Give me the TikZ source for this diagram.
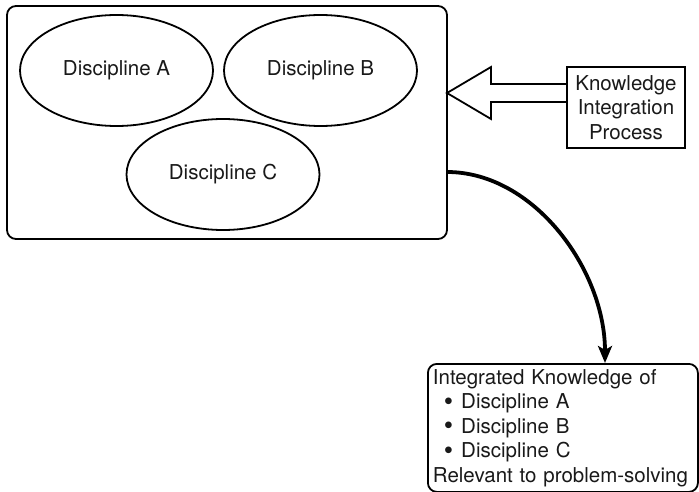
\documentclass[tikz,border=0pt]{standalone}
\usepackage{fontspec}
\setmainfont{TeX Gyre Heros}
\usetikzlibrary{arrows.meta,shapes.geometric}
\newcommand{\itembul}{\hspace*{11pt}\smash{\raisebox{-1.6pt}{\scalebox{1.3}{\textbullet}}}\hspace{8pt}}
\begin{document}
\begin{tikzpicture}[x=1pt,y=-1pt,
  every node/.style={font=\fontsize{20.5}{24.5}\selectfont, text=black!90},
  frame/.style={draw, line width=1.8pt, rounded corners=9pt},
  disc/.style={draw, ellipse, line width=1.8pt, minimum width=193pt, minimum height=111pt, inner sep=0pt},
  sqbox/.style={draw, line width=1.8pt, minimum width=118pt, minimum height=81pt, align=center, inner sep=0pt},
  resbox/.style={draw, line width=1.8pt, rounded corners=9pt, anchor=north west,
    minimum width=270pt, minimum height=128pt, text width=260pt, inner xsep=5pt, inner ysep=0pt, align=left},
  flow/.style={line width=3.8pt, -{Stealth[length=17pt,width=14pt,inset=4pt]}}
]
\useasboundingbox (0,0) rectangle (699,492);

% outer frame holding the three disciplines
\draw[frame] (7,6) rectangle (447,239);

\node[disc] (a) at (116.5,70.5) {Discipline A};
\node[disc] (b) at (320.5,70.5) {Discipline B};
\node[disc] (c) at (223,174.5) {Discipline C};

% knowledge integration process box
\node[sqbox] (kip) at (626,107.5) {Knowledge\\Integration\\Process};

% hollow block arrow pointing into the frame
\draw[line width=1.8pt, line join=miter]
  (kip.west |- 0,84) -- (491,84) -- (491,67) -- (447,93)
  -- (491,119) -- (491,102) -- (kip.west |- 0,102);

% result box
\node[resbox] (res) at (427,363) {Integrated Knowledge of\\
\itembul Discipline A\\
\itembul Discipline B\\
\itembul Discipline C\\
Relevant to problem-solving};

% curved connector from the frame to the result box
\coordinate (start) at (447,172);
\coordinate (finish) at (605,363);
\draw[flow] (start) .. controls (534,172) and (605,270) .. (finish);
\end{tikzpicture}
\end{document}
